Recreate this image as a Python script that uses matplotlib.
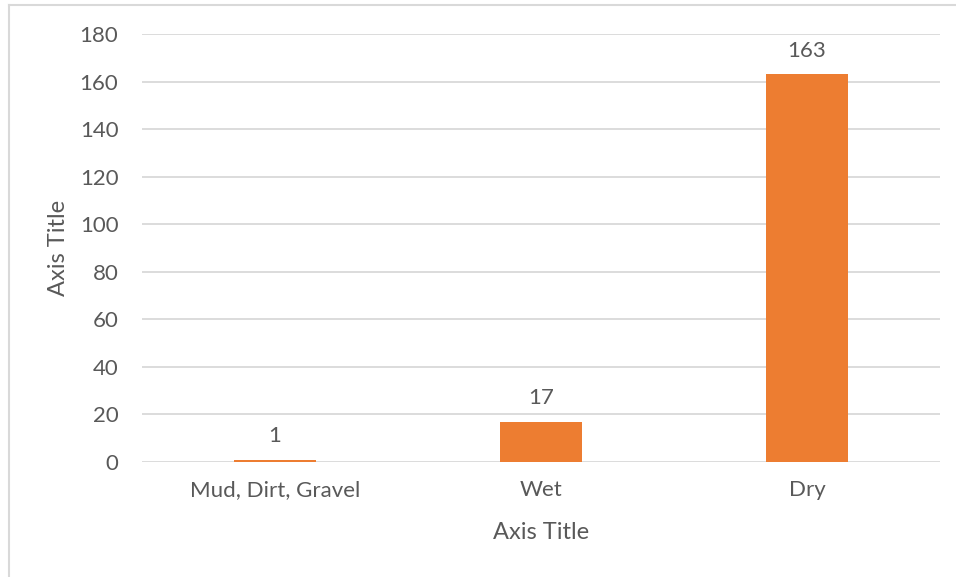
import matplotlib.pyplot as plt
from matplotlib.lines import Line2D

categories = ["Mud, Dirt, Gravel", "Wet", "Dry"]
counts = [1, 17, 163]
y_ticks = [0, 20, 40, 60, 80, 100, 120, 140, 160, 180]

text_color = "#595959"
grid_color = "#D9D9D9"
bar_color = "#ED7D31"

plt.rcParams["font.family"] = ["Lato", "DejaVu Sans"]

W, H = 956, 577
fig = plt.figure(figsize=(W / 100, H / 100), dpi=100)
ax = fig.add_axes([142 / W, 1 - 462 / H, 798 / W, 428 / H])

x = range(len(categories))
ax.bar(x, counts, width=0.31, color=bar_color, zorder=3)
for xi, v in zip(x, counts):
    ax.annotate(str(v), (xi, v), xytext=(0, 10), textcoords="offset points",
                ha="center", va="bottom", fontsize=16, color=text_color)

ax.set_xlim(-0.5, 2.5)
ax.set_ylim(0, 180)
ax.set_yticks(y_ticks)
ax.set_xticks(list(x))
ax.set_xticklabels(categories)
ax.tick_params(axis="both", length=0, labelsize=16, labelcolor=text_color)
ax.tick_params(axis="y", pad=17)
ax.tick_params(axis="x", pad=13)
ax.grid(axis="y", color=grid_color, linewidth=1.3, zorder=0)
for s in ax.spines.values():
    s.set_visible(False)

ax.set_xlabel("Axis Title", fontsize=17, color=text_color, labelpad=16)
ax.set_ylabel("Axis Title", fontsize=17, color=text_color, labelpad=8)

# chart frame
fig.add_artist(Line2D([8.5 / W, 1], [1 - 4.5 / H] * 2, color=grid_color, linewidth=1.5))
fig.add_artist(Line2D([8.5 / W] * 2, [0, 1 - 4.5 / H], color=grid_color, linewidth=1.5))

fig.savefig("out.png", dpi=100)
